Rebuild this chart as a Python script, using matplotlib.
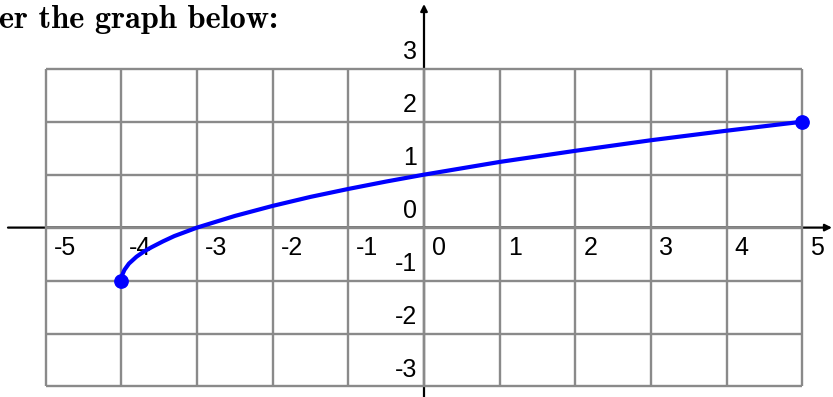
"""Square-root graph worksheet figure: y = sqrt(x+4) - 1 on a -5..5 / -3..3 grid."""

import matplotlib
matplotlib.use("Agg")
import matplotlib.pyplot as plt

# grid / tick values
x_ticks = [-5, -4, -3, -2, -1, 0, 1, 2, 3, 4, 5]
y_ticks = [-3, -2, -1, 0, 1, 2, 3]

# curve points
curve_x = [-4.0, -3.99, -3.96, -3.9, -3.8, -3.7, -3.6, -3.45, -3.3, -3.0, -2.5,
           -2.0, -1.5, -1.0, -0.5, 0.0, 1.0, 2.0, 3.0, 4.0, 5.0]
curve_y = [-1.0, -0.9, -0.8, -0.68, -0.55, -0.45, -0.37, -0.26, -0.16, 0.0, 0.22,
           0.41, 0.58, 0.73, 0.87, 1.0, 1.24, 1.45, 1.65, 1.83, 2.0]

title = "er the graph below:"

W, H = 833, 397
fig = plt.figure(figsize=(W / 100, H / 100), dpi=100)
ax = fig.add_axes([0, 0, 1, 1])
ax.set_axis_off()

# pixel mapping of the original: origin at (424, 227.6), 75.66 px per x unit, 52.95 px per y unit
x0, sx = 424.0, 75.66
y0, sy = 227.6, 52.95
ax.set_xlim(-x0 / sx, (W - x0) / sx)
ax.set_ylim(-(H - y0) / sy, y0 / sy)

# axes with arrows (black, drawn under the grid)
ax.annotate("", xy=((W - 1 - x0) / sx, 0), xytext=(-(x0 - 8) / sx, 0),
            arrowprops=dict(arrowstyle="-|>", color="black", lw=1.6,
                            mutation_scale=10, shrinkA=0, shrinkB=0), zorder=1)
ax.annotate("", xy=(0, (y0 - 4) / sy), xytext=(0, -(H - y0) / sy),
            arrowprops=dict(arrowstyle="-|>", color="black", lw=1.6,
                            mutation_scale=10, shrinkA=0, shrinkB=0), zorder=1)

# grid on top of the axes
grid_c = "#8a8a8a"
ax.vlines(x_ticks, y_ticks[0], y_ticks[-1], color=grid_c, lw=1.7, zorder=2)
ax.hlines(y_ticks, x_ticks[0], x_ticks[-1], color=grid_c, lw=1.7, zorder=2)

# tick labels
lab_font = dict(family="Liberation Sans", fontsize=18, color="black")
for v in x_ticks:
    ax.annotate(str(v), (v, 0), xytext=(8, -20.5), textcoords="offset pixels",
                ha="left", va="center", zorder=3, **lab_font)
for v in y_ticks:
    ax.annotate(str(v), (0, v), xytext=(-7, 16.5), textcoords="offset pixels",
                ha="right", va="center", zorder=3, **lab_font)

# the curve with endpoint dots
ax.plot(curve_x, curve_y, color="#0000ff", lw=3.0, solid_capstyle="round", zorder=4)
ax.plot([curve_x[0], curve_x[-1]], [curve_y[0], curve_y[-1]], "o",
        color="#0000ff", ms=9.6, zorder=5)

# cropped heading from the worksheet
fig.text(278 / W, 1 - 28 / H, title, ha="right", va="baseline",
         family=["cmb10", "DejaVu Serif"], fontsize=23.3, fontweight="bold")

fig.savefig("out.png", dpi=100)
